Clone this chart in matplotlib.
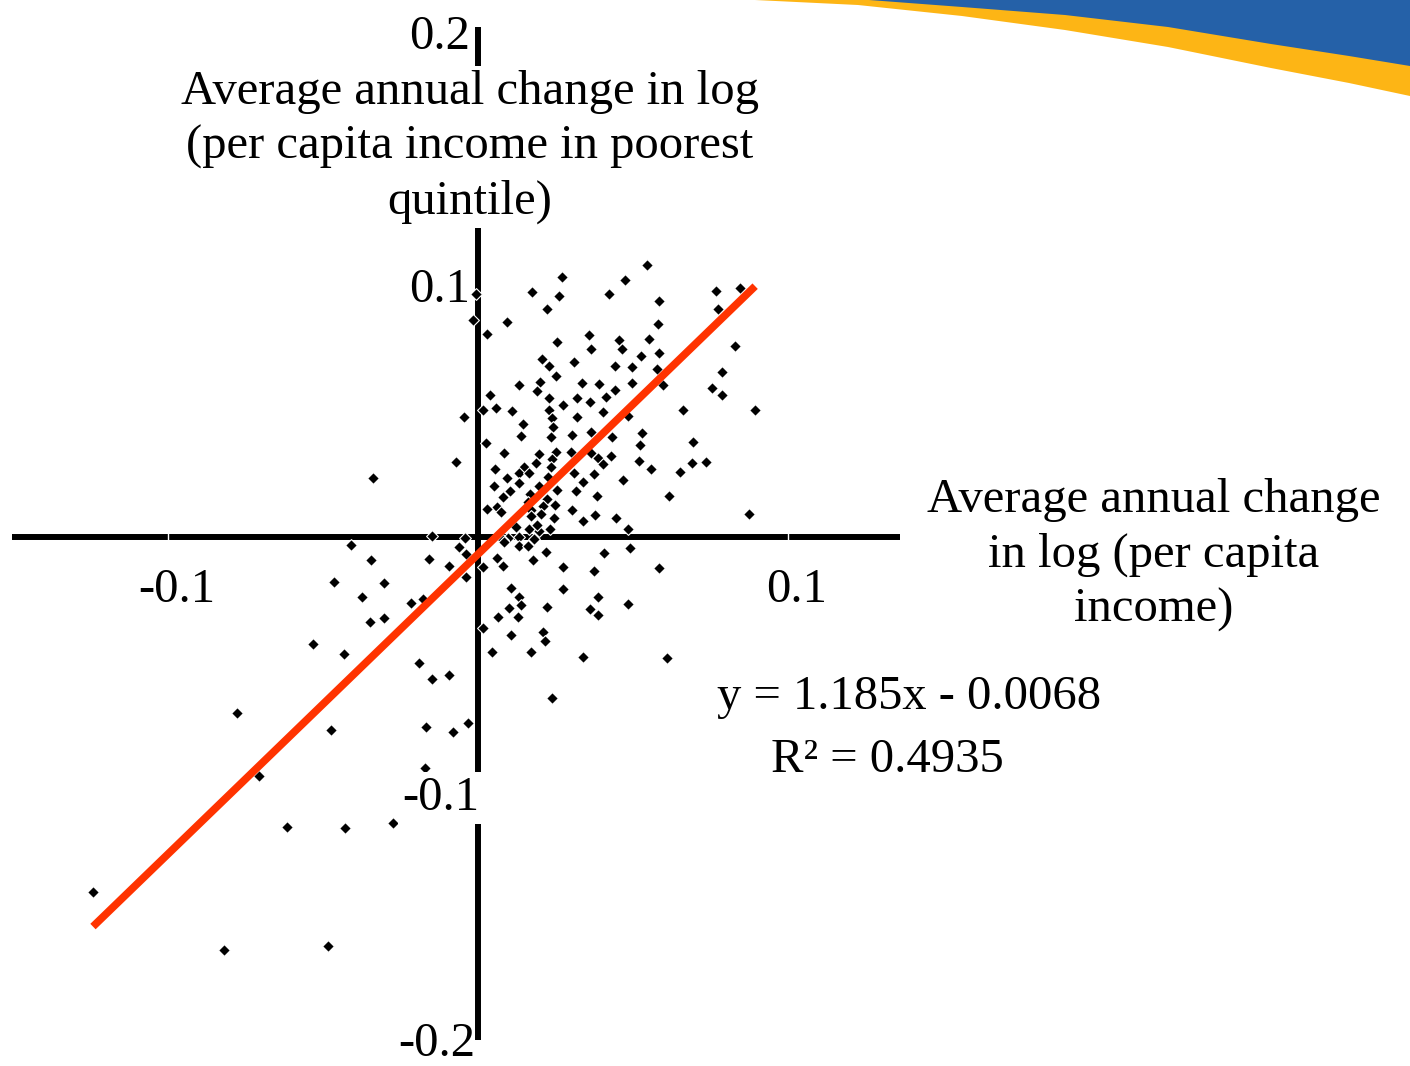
import numpy as np
import matplotlib
matplotlib.use("Agg")
import matplotlib.pyplot as plt

# ---------------- data ----------------
x_income = [
    0.0271, 0.0545, 0.0474, 0.0174, 0.0261, 0.0423, 0.0768, 0.0845, 0.0584, 0.0223,
    0.0774, 0.0094, 0.0581, 0.0029, 0.0358, 0.0255, 0.0455, 0.0552, 0.0365, 0.0465,
    0.0829, 0.0206, 0.0526, 0.0584, 0.0310, 0.0229, 0.0442, 0.0497, 0.0577, 0.0252,
    0.0787, 0.0200, 0.0132, 0.0335, 0.0390, 0.0497, 0.0597, 0.0755, 0.0190, 0.0442,
    0.0039, 0.0229, 0.0413, 0.0787, 0.0319, 0.0361, 0.0058, 0.0016, 0.0110, 0.0274,
    0.0661, 0.0894, 0.0403, 0.0229, -0.0045, 0.0319, 0.0239, 0.0484, 0.0145, 0.0242,
    0.0139, 0.0235, 0.0303, 0.0365, 0.0432, 0.0529, 0.0026, 0.0523, 0.0694, -0.0071,
    0.0084, 0.0197, 0.0252, 0.0300, 0.0365, 0.0239, 0.0187, 0.0387, 0.0429, 0.0403,
    0.0519, 0.0690, 0.0735, 0.0055, 0.0148, 0.0235, 0.0558, 0.0652, 0.0132, 0.0165,
    0.0094, 0.0310, 0.0226, 0.0374, 0.0339, 0.0468, 0.0052, 0.0132, 0.0103, 0.0197,
    0.0316, 0.0616, 0.0081, 0.0168, 0.0255, 0.0384, 0.0161, 0.0223, 0.0061, 0.0029,
    0.0210, 0.0248, 0.0074, 0.0303, 0.0171, 0.0203, 0.0245, 0.0339, 0.0377, 0.0445,
    0.0874, 0.0119, 0.0165, 0.0232, 0.0197, 0.0484, -0.0042, 0.0132, 0.0097, -0.0061,
    0.0132, 0.0161, 0.0490, 0.0171, 0.0190, 0.0123, 0.0081, -0.0410, -0.0148, -0.0039,
    -0.0345, -0.0158, -0.0094, -0.0039, 0.0016, 0.0061, 0.0081, 0.0084, 0.0181, 0.0219,
    0.0177, 0.0406, 0.0274, 0.0374, 0.0584, -0.0465, -0.0303, 0.0274, 0.0106, -0.0374,
    -0.0216, -0.0177, 0.0132, 0.0387, 0.0484, 0.0100, 0.0139, 0.0223, 0.0361, -0.0303,
    -0.0348, 0.0065, 0.0129, 0.0387, 0.0016, -0.0532, -0.0432, 0.0106, 0.0210, 0.0216,
    0.0045, 0.0171, 0.0339, 0.0610, -0.0190, -0.0148, -0.0094, 0.0239, -0.0777, -0.0474,
    -0.0168, -0.0081, -0.0032, -0.0706, -0.0171, -0.0616, -0.0429, -0.0274, -0.1242, -0.0819,
    -0.0484, -0.0339, -0.0006, -0.0016,
]
y_poorest = [
    0.1028, 0.1075, 0.1016, 0.0968, 0.0953, 0.0960, 0.0972, 0.0984, 0.0933, 0.0901,
    0.0901, 0.0850, 0.0842, 0.0802, 0.0798, 0.0771, 0.0779, 0.0783, 0.0743, 0.0743,
    0.0755, 0.0704, 0.0715, 0.0727, 0.0692, 0.0676, 0.0676, 0.0672, 0.0664, 0.0636,
    0.0652, 0.0613, 0.0601, 0.0609, 0.0605, 0.0609, 0.0601, 0.0589, 0.0577, 0.0581,
    0.0561, 0.0549, 0.0553, 0.0561, 0.0549, 0.0534, 0.0510, 0.0502, 0.0498, 0.0522,
    0.0502, 0.0502, 0.0494, 0.0502, 0.0474, 0.0474, 0.0470, 0.0478, 0.0447, 0.0435,
    0.0399, 0.0395, 0.0403, 0.0415, 0.0395, 0.0411, 0.0372, 0.0364, 0.0375, 0.0296,
    0.0332, 0.0328, 0.0336, 0.0336, 0.0332, 0.0308, 0.0292, 0.0312, 0.0320, 0.0289,
    0.0300, 0.0292, 0.0296, 0.0269, 0.0277, 0.0277, 0.0269, 0.0257, 0.0253, 0.0253,
    0.0233, 0.0253, 0.0237, 0.0249, 0.0217, 0.0225, 0.0202, 0.0213, 0.0182, 0.0202,
    0.0182, 0.0162, 0.0158, 0.0170, 0.0186, 0.0162, 0.0138, 0.0150, 0.0119, 0.0111,
    0.0123, 0.0126, 0.0099, 0.0107, 0.0107, 0.0091, 0.0075, 0.0063, 0.0087, 0.0075,
    0.0091, 0.0047, 0.0032, 0.0032, 0.0024, 0.0032, -0.0004, 0.0000, -0.0004, -0.0040,
    -0.0036, -0.0036, -0.0043, 0.0083, 0.0047, 0.0040, -0.0012, -0.0032, 0.0004, -0.0067,
    -0.0091, -0.0087, -0.0115, -0.0158, -0.0119, -0.0083, -0.0115, -0.0020, -0.0008, -0.0059,
    -0.0091, -0.0063, -0.0119, -0.0134, -0.0123, -0.0178, -0.0182, -0.0206, -0.0202, -0.0237,
    -0.0261, -0.0245, -0.0237, -0.0237, -0.0265, -0.0281, -0.0269, -0.0277, -0.0285, -0.0320,
    -0.0336, -0.0316, -0.0316, -0.0308, -0.0360, -0.0423, -0.0462, -0.0387, -0.0375, -0.0411,
    -0.0455, -0.0455, -0.0474, -0.0478, -0.0498, -0.0561, -0.0545, -0.0636, -0.0696, -0.0763,
    -0.0751, -0.0771, -0.0735, -0.0945, -0.0913, -0.1146, -0.1150, -0.1130, -0.1403, -0.1632,
    -0.1617, 0.0233, 0.0960, 0.0858,
]

slope = 1.185
intercept = -0.0068
r_squared = 0.4935

x_tick_values = [-0.1, 0.1]
y_tick_values = [0.2, 0.1, -0.1, -0.2]

x_title = "Average annual change\nin log (per capita\nincome)"
y_title = "Average annual change in log\n(per capita income in poorest\nquintile)"
eq_text = "y = 1.185x - 0.0068"
r2_text = "R\u00b2 = 0.4935"

# decorative banner in the top-right corner (figure pixels)
swoosh_orange_x = [755, 858, 962, 1065, 1168, 1271, 1349, 1410]
swoosh_orange_y = [0, 5, 16, 30, 47, 68, 83, 96]
swoosh_blue_x = [869, 962, 1065, 1168, 1271, 1349, 1410]
swoosh_blue_y = [0, 7, 15, 27, 44, 56, 66]

# ---------------- styling ----------------
plt.rcParams["font.family"] = ["Liberation Serif", "DejaVu Serif"]
FS = 35
W, H = 1410, 1066
fig = plt.figure(figsize=(W / 100, H / 100), dpi=100)
fig.patch.set_facecolor("white")

ax = fig.add_axes([0, 0, 1, 1])
ax.set_xlim(-478 / 3100, 932 / 3100)
ax.set_ylim(-529 / 2530, 537 / 2530)
ax.axis("off")

# axis lines through the origin
ax.plot([-0.1503, 0.1361], [0, 0], color="black", lw=4.3, solid_capstyle="butt", zorder=2)
ax.plot([0, 0], [-0.1988, 0.2016], color="black", lw=4.3, solid_capstyle="butt", zorder=2)
for t in x_tick_values:
    ax.plot([t, t], [-0.0012, 0.0012], color="white", lw=1.0, zorder=2.5)

# scatter points
x = np.array(x_income)
y = np.array(y_poorest)
ax.scatter(x, y, marker="D", s=36, c="black", edgecolors="white", linewidths=0.8, zorder=3)

# trend line
xs = np.array([x.min(), x.max()])
ax.plot(xs, slope * xs + intercept, color="#FF3300", lw=5.5, solid_capstyle="butt", zorder=4)

# tick labels
for v in y_tick_values:
    lbl = f"{v:g}"
    if v == -0.1:
        ax.annotate(lbl, xy=(0, v), xytext=(1, -8), textcoords="offset pixels",
                    ha="right", va="center", fontsize=FS, zorder=6,
                    bbox=dict(boxstyle="square,pad=0.08", fc="white", ec="none"))
    elif v == -0.2:
        ax.annotate(lbl, xy=(0, v), xytext=(-3, -1), textcoords="offset pixels",
                    ha="right", va="center", fontsize=FS, zorder=6)
    else:
        ax.annotate(lbl, xy=(0, v), xytext=(-8, -6), textcoords="offset pixels",
                    ha="right", va="center", fontsize=FS, zorder=6)
for v in x_tick_values:
    ax.annotate(f"{v:g}", xy=(v, 0), xytext=(9, -53), textcoords="offset pixels",
                ha="center", va="center", fontsize=FS, zorder=6)

# axis titles
ax.text(470 / W, 1 - 147 / H, y_title, transform=ax.transAxes, ha="center", va="center",
        multialignment="center", fontsize=FS, linespacing=1.30, zorder=6,
        bbox=dict(boxstyle="square,pad=0.1", fc="white", ec="none"))
ax.text(1154 / W, 1 - 555 / H, x_title, transform=ax.transAxes, ha="center", va="center",
        multialignment="center", fontsize=FS, linespacing=1.30, zorder=6)

# regression equation
ax.text(717 / W, 1 - 697 / H, eq_text, transform=ax.transAxes, ha="left", va="center",
        fontsize=FS, zorder=6)
ax.text(771 / W, 1 - 760 / H, r2_text, transform=ax.transAxes, ha="left", va="center",
        fontsize=FS, zorder=6)

# decorative banner
bx = fig.add_axes([0, 0, 1, 1], zorder=-1)
bx.set_xlim(0, W)
bx.set_ylim(H, 0)
bx.axis("off")
bx.fill(swoosh_orange_x + [W, swoosh_orange_x[0]], swoosh_orange_y + [0, 0], color="#FDB515", lw=0)
bx.fill(swoosh_blue_x + [W, swoosh_blue_x[0]], swoosh_blue_y + [0, 0], color="#2561A8", lw=0)
ax.set_zorder(1)
ax.patch.set_visible(False)

fig.savefig("out.png", dpi=100, facecolor="white")
